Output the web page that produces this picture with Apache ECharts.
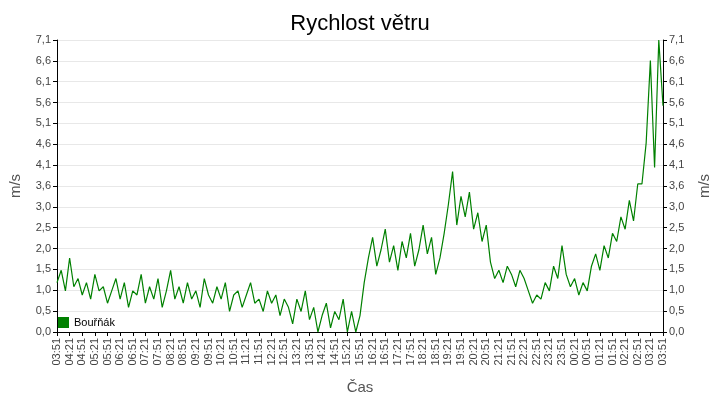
<!DOCTYPE html>
<html>
<head>
<meta charset="utf-8">
<script src="https://cdn.jsdelivr.net/npm/echarts@6/dist/echarts.min.js"></script>
<style>html,body{margin:0;padding:0;background:#fff}#c{width:720px;height:400px}</style>
</head>
<body>
<div id="c"></div>
<script>
// wind speed, 10-minute samples from 03:51 to 03:51 next day
var startMinute = 3 * 60 + 51;
var stepMinutes = 10;
var speeds = [
    1.2, 1.5, 1.0, 1.8, 1.1, 1.3, 0.9,
    1.2, 0.8, 1.4, 1.0, 1.1, 0.7,
    1.0, 1.3, 0.8, 1.2, 0.6, 1.0,
    0.9, 1.4, 0.7, 1.1, 0.8, 1.3,
    0.6, 1.0, 1.5, 0.8, 1.1, 0.7,
    1.2, 0.8, 1.0, 0.6, 1.3, 0.9,
    0.7, 1.1, 0.8, 1.2, 0.5, 0.9,
    1.0, 0.6, 0.9, 1.2, 0.7, 0.8,
    0.5, 1.0, 0.7, 0.9, 0.4, 0.8,
    0.6, 0.2, 0.8, 0.5, 1.0, 0.3,
    0.6, 0.0, 0.4, 0.7, 0.1, 0.5,
    0.3, 0.8, 0.0, 0.5, 0.0, 0.4,
    1.2, 1.8, 2.3, 1.6, 2.0, 2.5,
    1.7, 2.1, 1.5, 2.2, 1.8, 2.4,
    1.6, 2.0, 2.6, 1.9, 2.3, 1.4,
    1.8, 2.4, 3.1, 3.9, 2.6, 3.3,
    2.8, 3.4, 2.5, 2.9, 2.2, 2.6,
    1.7, 1.3, 1.5, 1.2, 1.6, 1.4,
    1.1, 1.5, 1.3, 1.0, 0.7, 0.9,
    0.8, 1.2, 1.0, 1.6, 1.3, 2.1,
    1.4, 1.1, 1.3, 0.9, 1.2, 1.0,
    1.6, 1.9, 1.5, 2.1, 1.8, 2.4,
    2.2, 2.8, 2.5, 3.2, 2.7, 3.6,
    3.6, 4.6, 6.6, 4.0, 7.1, 5.5
];
var yMax = 7.1;
var ySplits = 14;

function pad(n) { return (n < 10 ? '0' : '') + n; }
var times = speeds.map(function (v, i) {
    var m = (startMinute + i * stepMinutes) % 1440;
    return pad(Math.floor(m / 60)) + ':' + pad(m % 60);
});

var step = yMax / ySplits;
function fmt(v) {
    var i = Math.round(v / step);
    var tenths = Math.round(i * Math.round(yMax * 10) / ySplits);
    return (tenths / 10).toFixed(1).replace('.', ',');
}

var yAxisBase = {
    type: 'value', min: 0, max: yMax, interval: step,
    name: 'm/s', nameLocation: 'middle', nameGap: 34,
    nameTextStyle: { color: '#555', fontSize: 15 },
    axisLine: { show: true, lineStyle: { color: '#000' } },
    axisTick: { show: true, length: 4, lineStyle: { color: '#000' } },
    axisLabel: { color: '#444', fontSize: 11, formatter: fmt, margin: 6 },
    splitLine: { lineStyle: { color: '#e8e8e8' } }
};

var myChart = echarts.init(document.getElementById('c'));
myChart.setOption({
    animation: false,
    textStyle: { fontFamily: 'Liberation Sans' },
    title: {
        text: 'Rychlost větru', left: 'center', top: 8,
        textStyle: { fontSize: 22, fontWeight: 'normal', color: '#000' }
    },
    legend: {
        left: 53, top: 312, itemWidth: 11, itemHeight: 11, icon: 'rect',
        textStyle: { fontSize: 11, color: '#000' },
        data: ['Bouřňák']
    },
    grid: { left: 49, right: 49, top: 40, bottom: 68 },
    xAxis: {
        type: 'category', data: times, boundaryGap: false,
        name: 'Čas', nameLocation: 'middle', nameGap: 48,
        nameTextStyle: { color: '#555', fontSize: 15 },
        axisLine: { lineStyle: { color: '#000' } },
        axisTick: { interval: 2, length: 4, lineStyle: { color: '#000' } },
        axisLabel: { interval: 2, rotate: 90, color: '#444', fontSize: 11, margin: 6 },
        splitLine: { show: false }
    },
    yAxis: [
        echarts.util.merge({ position: 'left' }, yAxisBase, true),
        echarts.util.merge({ position: 'right' }, yAxisBase, true)
    ],
    series: [{
        name: 'Bouřňák', type: 'line', data: speeds,
        showSymbol: false, color: '#008000',
        lineStyle: { width: 1.2, color: '#008000' }
    }]
});
</script>
</body>
</html>
